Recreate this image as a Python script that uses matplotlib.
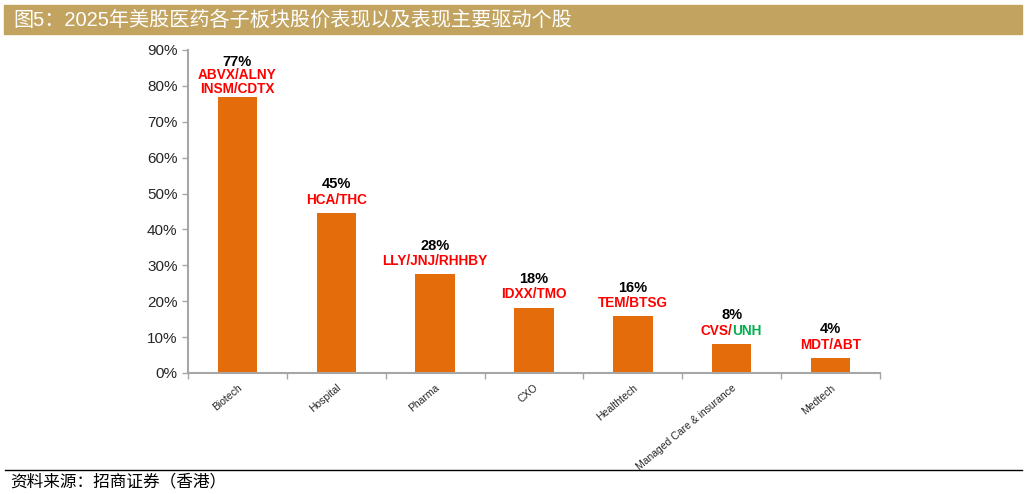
import numpy as np
import matplotlib.pyplot as plt
from matplotlib.patches import Rectangle

plt.rcParams['font.family'] = ['Liberation Sans', 'Noto Sans CJK SC', 'DejaVu Sans']

categories = ["Biotech", "Hospital", "Pharma", "CXO", "Healthtech",
              "Managed Care & insurance", "Medtech"]
returns = [0.768, 0.446, 0.275, 0.182, 0.158, 0.081, 0.042]
pct_labels = ["77%", "45%", "28%", "18%", "16%", "8%", "4%"]
drivers = ["ABVX/ALNY\nINSM/CDTX", "HCA/THC", "LLY/JNJ/RHHBY", "IDXX/TMO",
           "TEM/BTSG", "CVS/UNH", "MDT/ABT"]
title = "图5：2025年美股医药各子板块股价表现以及表现主要驱动个股"
source = "资料来源：招商证券（香港）"

gold = '#C2A35F'
orange = '#E46C0A'
red = '#FF0000'
green = '#00B050'
spine = '#A6A6A6'

fig = plt.figure(figsize=(10.28, 4.94), dpi=100)

# header band and footer line
fig.patches.append(Rectangle((4/1028, 1-34/494), 1018/1028, 29/494,
                             transform=fig.transFigure, color=gold, zorder=0))
fig.text(13/1028, 1-20/494, title, color='white', fontsize=14.5,
         family=['Liberation Sans', 'Noto Sans CJK SC'], va='center', ha='left')
fig.add_artist(plt.Line2D([5/1028, 1022/1028], [1-470/494, 1-470/494],
                          transform=fig.transFigure, color='black', lw=1))
fig.text(10/1028, 1-482/494, source, fontsize=12, style='italic',
         family=['Noto Sans CJK SC', 'DejaVu Sans'], va='center', ha='left')

ax = fig.add_axes([188/1028, 1-373/494, 692/1028, 323/494])
x = np.arange(len(categories))
ax.bar(x, returns, width=0.4, color=orange, zorder=2)

ax.set_xlim(-0.5, len(categories) - 0.5)
ax.set_ylim(0, 0.9)
yt = np.arange(0, 0.91, 0.1)
ax.set_yticks(yt)
ax.set_yticklabels([f"{int(round(v*100))}%" for v in yt], fontsize=11)
ax.set_xticks(x)
ax.set_xticklabels(categories, rotation=40, ha='right', rotation_mode='anchor',
                   fontsize=7.5, color='#262626')
ax.tick_params(axis='x', length=0, pad=7)
ax.set_xticks(np.arange(-0.5, len(categories)), minor=True)
ax.tick_params(axis='x', which='minor', length=4, color=spine, width=1)
ax.tick_params(axis='y', length=4, color=spine, width=1, labelcolor='#262626')

for s in ['top', 'right']:
    ax.spines[s].set_visible(False)
for s in ['left', 'bottom']:
    ax.spines[s].set_color(spine)
    ax.spines[s].set_linewidth(1.5)

fs_d = 9.8
for i, (v, p, d) in enumerate(zip(returns, pct_labels, drivers)):
    lines = d.split("\n")[::-1]
    base = 9.6 if len(lines) == 1 else 6.0
    for k, line in enumerate(lines):
        off = base + 10 * k
        if line == "CVS/UNH":
            ax.annotate("CVS/", (i, v), xytext=(0.5, off), textcoords='offset points',
                        ha='right', va='center', color=red, fontsize=fs_d,
                        fontweight='bold')
            ax.annotate("UNH", (i, v), xytext=(0.5, off), textcoords='offset points',
                        ha='left', va='center', color=green, fontsize=fs_d,
                        fontweight='bold')
        else:
            ax.annotate(line, (i, v), xytext=(0, off), textcoords='offset points',
                        ha='center', va='center', color=red, fontsize=fs_d,
                        fontweight='bold')
    top = base + 10 * (len(lines) - 1)
    ax.annotate(p, (i, v), xytext=(0, top + (11 if len(lines) == 1 else 9.7)),
                textcoords='offset points', ha='center', va='center',
                color='black', fontsize=10.5, fontweight='bold')

fig.savefig("out.png", dpi=100)
